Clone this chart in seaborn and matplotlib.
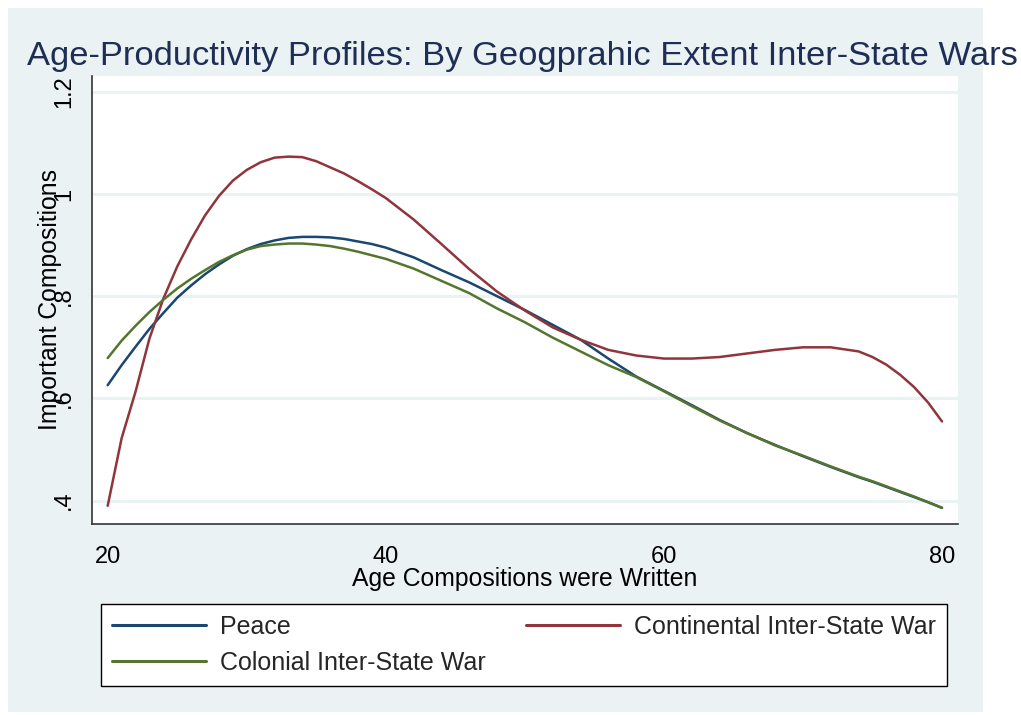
import numpy as np
import pandas as pd
import matplotlib
matplotlib.use("Agg")
import matplotlib.pyplot as plt
from matplotlib.patches import Rectangle
from matplotlib.lines import Line2D
import seaborn as sns

# ---- data ----
ages = [20, 21, 22, 23, 24, 25, 26, 27, 28, 29, 30, 31, 32, 33, 34, 35, 36, 37, 38, 39, 40,
        42, 44, 46, 48, 50, 52, 54, 56, 58, 60, 62, 64, 66, 68, 70, 72, 74,
        75, 76, 77, 78, 79, 80]
peace = [0.626, 0.665, 0.701, 0.736, 0.767, 0.797, 0.821, 0.843, 0.862, 0.879, 0.892,
         0.902, 0.909, 0.914, 0.916, 0.916, 0.915, 0.912, 0.907, 0.902, 0.895,
         0.876, 0.851, 0.827, 0.800, 0.773, 0.744, 0.715, 0.678, 0.643, 0.615, 0.587,
         0.558, 0.532, 0.509, 0.487, 0.466, 0.446,
         0.437, 0.427, 0.417, 0.407, 0.397, 0.386]
continental = [0.390, 0.522, 0.613, 0.717, 0.795, 0.858, 0.911, 0.958, 0.996, 1.026, 1.047,
               1.062, 1.071, 1.073, 1.072, 1.064, 1.052, 1.040, 1.025, 1.009, 0.992,
               0.950, 0.902, 0.853, 0.809, 0.772, 0.739, 0.715, 0.695, 0.684, 0.678, 0.678,
               0.681, 0.688, 0.695, 0.700, 0.700, 0.692,
               0.681, 0.666, 0.646, 0.622, 0.592, 0.555]
colonial = [0.679, 0.713, 0.742, 0.769, 0.793, 0.815, 0.834, 0.851, 0.867, 0.880, 0.891,
            0.898, 0.901, 0.903, 0.903, 0.901, 0.898, 0.893, 0.887, 0.880, 0.873,
            0.854, 0.830, 0.806, 0.776, 0.749, 0.719, 0.692, 0.665, 0.642, 0.614, 0.585,
            0.557, 0.532, 0.508, 0.488, 0.467, 0.447,
            0.438, 0.428, 0.418, 0.408, 0.397, 0.386]
series_names = ["Peace", "Continental Inter-State War", "Colonial Inter-State War"]
x_ticks = [20, 40, 60, 80]
y_ticks = [0.4, 0.6, 0.8, 1.0, 1.2]
y_tick_labels = [".4", ".6", ".8", "1", "1.2"]
title = "Age-Productivity Profiles: By Geogprahic Extent Inter-State Wars"
x_label = "Age Compositions were Written"
y_label = "Important Compositions"

colors = {"Peace": "#1a476f",
          "Continental Inter-State War": "#90353b",
          "Colonial Inter-State War": "#55752f"}

df = pd.DataFrame({
    "age": ages * 3,
    "value": peace + continental + colonial,
    "series": [series_names[0]] * len(ages) + [series_names[1]] * len(ages)
              + [series_names[2]] * len(ages),
})

sns.set_theme(style="white")
plt.rcParams["font.family"] = ["Liberation Sans", "DejaVu Sans"]

W, H = 1021, 715
fig = plt.figure(figsize=(W / 100, H / 100), dpi=100)
fig.patch.set_facecolor("white")
bg = "#EAF2F3"
fig.patches.append(Rectangle((8 / W, 1 - 712 / H), 975 / W, 704 / H,
                             transform=fig.transFigure, facecolor=bg,
                             edgecolor="none", zorder=-10))

ax = fig.add_axes([92 / W, 1 - 524 / H, (957.7 - 92) / W, (524 - 76) / H])
ax.set_facecolor("white")

sns.lineplot(data=df, x="age", y="value", hue="series", hue_order=series_names,
             palette=colors, linewidth=1.8, ax=ax, legend=False, sort=False)

ax.set_xlim(18.871, 81.129)
ax.set_ylim(0.3544, 1.2307)
ax.set_xticks(x_ticks)
ax.set_xticklabels([str(t) for t in x_ticks], fontsize=17)
ax.set_yticks(y_ticks)
ax.set_yticklabels(y_tick_labels, fontsize=17, rotation=90, va="center")
ax.grid(axis="y", color=bg, linewidth=2.2)
ax.grid(axis="x", visible=False)
ax.set_axisbelow(True)

for s in ["top", "right"]:
    ax.spines[s].set_visible(False)
for s in ["left", "bottom"]:
    ax.spines[s].set_color("#333333")
    ax.spines[s].set_linewidth(1.2)

ax.tick_params(axis="both", direction="out", length=8, width=1.1, color="#333333",
               labelcolor="black")
ax.tick_params(axis="x", pad=8)
ax.tick_params(axis="y", pad=4)

ax.set_xlabel(x_label, fontsize=17.8, color="black")
ax.xaxis.set_label_coords(0.5, -0.096)
ax.xaxis.label.set_va("top")
ax.set_ylabel(y_label, fontsize=17.8, color="black")
ax.yaxis.set_label_coords(-0.035, 0.5)

fig.text(522 / W, 1 - 65 / H, title, ha="center", va="baseline",
         fontsize=24.8, color="#1f2e54")

order = [series_names[0], series_names[2], series_names[1]]
handles = [Line2D([], [], color=colors[n], linewidth=2.2) for n in order]
leg = fig.legend(handles, order, ncol=2, mode="expand",
                 bbox_to_anchor=(101 / W, 1 - 686 / H, (947 - 101) / W, (686 - 605) / H),
                 loc="lower left", fontsize=18, frameon=True, fancybox=False,
                 handlelength=3.76, handletextpad=0.55, borderpad=0.45,
                 labelspacing=0.48, borderaxespad=0)
frame = leg.get_frame()
frame.set_edgecolor("black")
frame.set_linewidth(1.0)
frame.set_facecolor("white")
frame.set_alpha(1)

fig.savefig("out.png", dpi=100, facecolor="white")
